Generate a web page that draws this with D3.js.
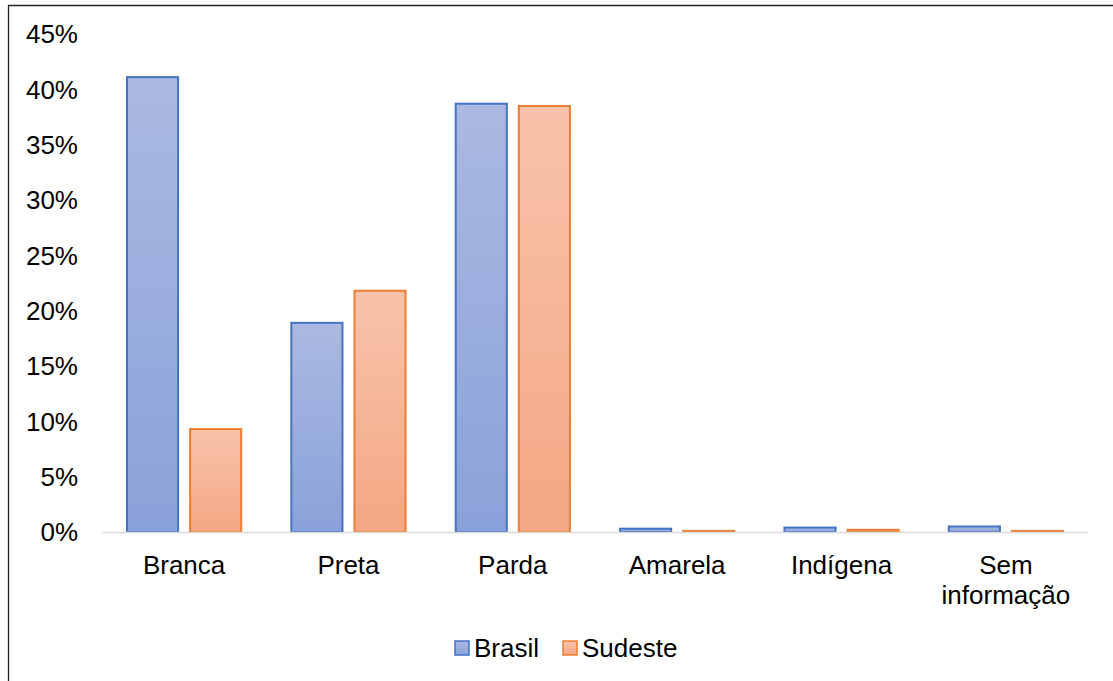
<!DOCTYPE html>
<html>
<head>
<meta charset="utf-8">
<script src="https://cdn.jsdelivr.net/npm/d3@7"></script>
<style>
  body { margin: 0; background: #fff; }
  svg { display: block; font-family: "Liberation Sans", Arial, sans-serif; }
</style>
</head>
<body>
<svg id="chart" width="1113" height="681"></svg>
<script>
const categories = ['Branca', 'Preta', 'Parda', 'Amarela', 'Indígena', 'Sem informação'];
const seriesNames = ['Brasil', 'Sudeste'];
const brasil = [0.411, 0.189, 0.387, 0.003, 0.004, 0.005];
const sudeste = [0.093, 0.218, 0.385, 0.001, 0.002, 0.001];
const yTicks = [0, 0.05, 0.10, 0.15, 0.20, 0.25, 0.30, 0.35, 0.40, 0.45];

const colors = {
    Brasil: { stroke: '#4472c4', top: '#aab9e1', bottom: '#8aa2da' },
    Sudeste: { stroke: '#ed7d31', top: '#f8c3ab', bottom: '#f4a784' },
};

const svg = d3.select('#chart');
const width = 1113, height = 681;
const margin = { top: 34, right: 25, bottom: 149, left: 102 };
const innerW = width - margin.left - margin.right;
const innerH = height - margin.top - margin.bottom;
const fontSize = 26;

// outer frame (only top and left edges are inside the picture)
svg.append('path')
    .attr('d', `M8.5,${height}V5.5H${width}`)
    .attr('fill', 'none')
    .attr('stroke', '#222')
    .attr('stroke-width', 1.3);

const defs = svg.append('defs');
seriesNames.forEach((name) => {
    const grad = defs.append('linearGradient')
        .attr('id', `grad-${name}`)
        .attr('x1', 0).attr('y1', 0).attr('x2', 0).attr('y2', 1);
    grad.append('stop').attr('offset', '0%').attr('stop-color', colors[name].top);
    grad.append('stop').attr('offset', '100%').attr('stop-color', colors[name].bottom);
});

const g = svg.append('g').attr('transform', `translate(${margin.left},${margin.top})`);

const x = d3.scaleBand().domain(categories).range([0, innerW]).paddingInner(0.305).paddingOuter(0.152);
const x1 = d3.scaleBand().domain(seriesNames).range([0, x.bandwidth()]).paddingInner(0.19);
const y = d3.scaleLinear().domain([0, 0.45]).range([innerH, 0]);

// y axis labels
g.selectAll('.ytick')
    .data(yTicks)
    .enter()
    .append('text')
    .attr('x', -24)
    .attr('y', (d) => y(d))
    .attr('dy', '0.36em')
    .attr('text-anchor', 'end')
    .attr('font-size', fontSize)
    .attr('fill', '#000')
    .text((d) => d3.format('.0%')(d));

// bars
const data = categories.map((c, i) => ({ cat: c, values: [brasil[i], sudeste[i]] }));
const groups = g.selectAll('.grp')
    .data(data)
    .enter()
    .append('g')
    .attr('transform', (d) => `translate(${x(d.cat)},0)`);

groups.selectAll('rect')
    .data((d) => seriesNames.map((s, i) => ({ s, v: d.values[i] })))
    .enter()
    .append('rect')
    .attr('x', (d) => x1(d.s))
    .attr('y', (d) => y(d.v))
    .attr('width', x1.bandwidth())
    .attr('height', (d) => innerH - y(d.v))
    .attr('fill', (d) => `url(#grad-${d.s})`)
    .attr('stroke', (d) => colors[d.s].stroke)
    .attr('stroke-width', 2);

// baseline
g.append('line')
    .attr('x1', 0).attr('x2', innerW)
    .attr('y1', innerH + 0.5).attr('y2', innerH + 0.5)
    .attr('stroke', '#d9d9d9')
    .attr('stroke-width', 1.5);

// category labels (wrap "Sem informação")
const catLabels = g.selectAll('.xlab')
    .data(categories)
    .enter()
    .append('text')
    .attr('x', (d) => x(d) + x.bandwidth() / 2)
    .attr('y', innerH + 42)
    .attr('text-anchor', 'middle')
    .attr('font-size', fontSize)
    .attr('fill', '#000');
catLabels.each(function (d) {
    const words = d.split(' ');
    const t = d3.select(this);
    words.forEach((w, i) => {
        t.append('tspan')
            .attr('x', x(d) + x.bandwidth() / 2)
            .attr('dy', i === 0 ? 0 : 30)
            .text(w);
    });
});

// legend
const legend = svg.append('g').attr('transform', 'translate(455,648)');
const legendItems = [
    { name: 'Brasil', dx: 0 },
    { name: 'Sudeste', dx: 108 },
];
legendItems.forEach((it) => {
    const lg = legend.append('g').attr('transform', `translate(${it.dx},0)`);
    lg.append('rect')
        .attr('x', 0).attr('y', -7)
        .attr('width', 14).attr('height', 14)
        .attr('fill', `url(#grad-${it.name})`)
        .attr('stroke', colors[it.name].stroke)
        .attr('stroke-width', 1.5);
    lg.append('text')
        .attr('x', 19)
        .attr('y', 0)
        .attr('dy', '0.36em')
        .attr('font-size', fontSize)
        .attr('fill', '#000')
        .text(it.name);
});
</script>
</body>
</html>
